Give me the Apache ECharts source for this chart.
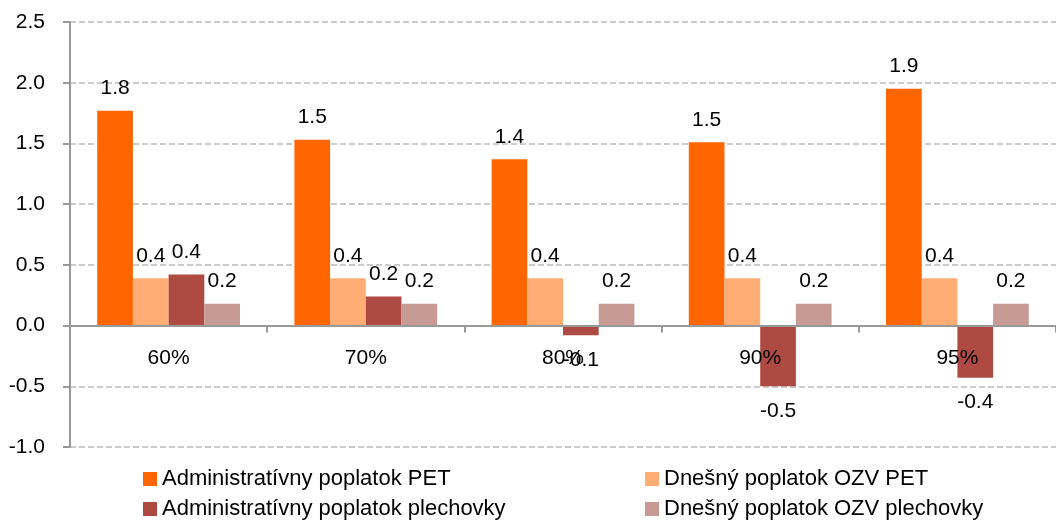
<!DOCTYPE html>
<html>
<head>
<meta charset="utf-8">
<script src="https://cdn.jsdelivr.net/npm/echarts@6/dist/echarts.min.js"></script>
<style>
  html, body { margin: 0; padding: 0; background: #fff; }
  #chart { width: 1056px; height: 523px; }
</style>
</head>
<body>
<div id="chart"></div>
<script>
const categories = ['60%', '70%', '80%', '90%', '95%'];
const seriesNames = [
  'Administratívny poplatok PET',
  'Dnešný poplatok OZV PET',
  'Administratívny poplatok plechovky',
  'Dnešný poplatok OZV plechovky'
];
const adminPet = [1.77, 1.53, 1.37, 1.51, 1.95];
const ozvPet = [0.39, 0.39, 0.39, 0.39, 0.39];
const adminCans = [0.42, 0.24, -0.08, -0.5, -0.43];
const ozvCans = [0.18, 0.18, 0.18, 0.18, 0.18];
const colors = ['#FF6600', '#FFAD75', '#AD4B43', '#C79A94'];

const font = 'Liberation Sans, Arial, sans-serif';
const chart = echarts.init(document.getElementById('chart'));

function makeSeries(name, values, color) {
  return {
    name: name,
    type: 'bar',
    barGap: '0%',
    barCategoryGap: '27.6%',
    itemStyle: { color: color },
    data: values.map(v => ({
      value: v,
      label: { position: v < 0 ? 'bottom' : 'top', distance: v < 0 ? 14 : 12 }
    })),
    label: {
      show: true,
      color: '#000',
      fontFamily: font,
      fontSize: 21,
      formatter: p => p.value.toFixed(1)
    }
  };
}

// grid: top 22, height 425 over 3.5 units -> zero line sits 121.4px above the bottom
const option = {
  animation: false,
  grid: { left: 70, right: -9, top: 22, bottom: 76 },
  legend: [
    {
      data: [seriesNames[0], seriesNames[2]],
      orient: 'vertical',
      left: 138, top: 463, height: 120,
      itemWidth: 14, itemHeight: 14, itemGap: 8,
      icon: 'rect',
      textStyle: { fontFamily: font, fontSize: 22, color: '#000' }
    },
    {
      data: [seriesNames[1], seriesNames[3]],
      orient: 'vertical',
      left: 640, top: 463, height: 120,
      itemWidth: 14, itemHeight: 14, itemGap: 8,
      icon: 'rect',
      textStyle: { fontFamily: font, fontSize: 22, color: '#000' }
    }
  ],
  xAxis: {
    type: 'category',
    data: categories,
    position: 'bottom',
    offset: -121.4,
    z: 10,
    axisLine: { onZero: false, lineStyle: { color: '#999', width: 2 } },
    axisTick: { show: true, length: 7, lineStyle: { color: '#999', width: 2 } },
    axisLabel: { margin: 22, color: '#000', fontFamily: font, fontSize: 21 }
  },
  yAxis: {
    type: 'value',
    min: -1, max: 2.5, interval: 0.5,
    axisLine: { show: true, lineStyle: { color: '#999', width: 2 } },
    axisTick: { show: true, length: 7, lineStyle: { color: '#999', width: 2 } },
    axisLabel: {
      margin: 25, color: '#000', fontFamily: font, fontSize: 21,
      formatter: v => v.toFixed(1)
    },
    splitLine: { show: true, lineStyle: { color: '#bbb', type: 'dashed', width: 1.5 } }
  },
  series: [
    makeSeries(seriesNames[0], adminPet, colors[0]),
    makeSeries(seriesNames[1], ozvPet, colors[1]),
    makeSeries(seriesNames[2], adminCans, colors[2]),
    makeSeries(seriesNames[3], ozvCans, colors[3])
  ]
};

chart.setOption(option);
</script>
</body>
</html>
